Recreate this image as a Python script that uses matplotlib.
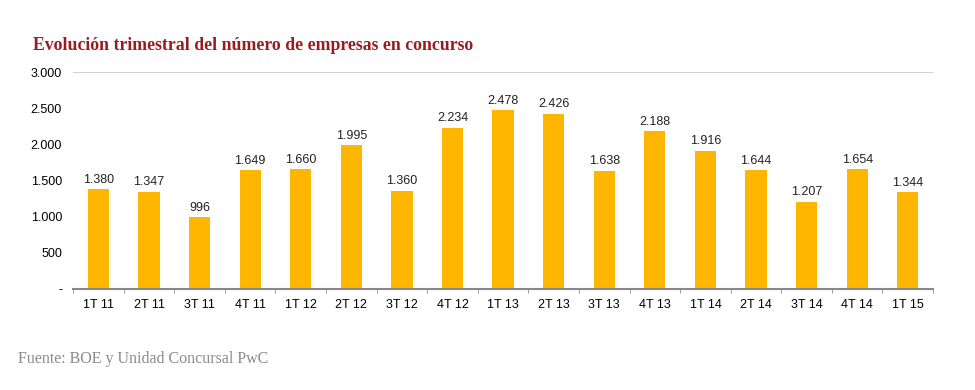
import matplotlib.pyplot as plt
import numpy as np

trimestres = ["1T 11", "2T 11", "3T 11", "4T 11", "1T 12", "2T 12", "3T 12", "4T 12",
              "1T 13", "2T 13", "3T 13", "4T 13", "1T 14", "2T 14", "3T 14", "4T 14", "1T 15"]
empresas = [1380, 1347, 996, 1649, 1660, 1995, 1360, 2234,
            2478, 2426, 1638, 2188, 1916, 1644, 1207, 1654, 1344]
yticks = [0, 500, 1000, 1500, 2000, 2500, 3000]
ylabels = ["-", "500", "1.000", "1.500", "2.000", "2.500", "3.000"]

fig = plt.figure(figsize=(9.75, 3.9), dpi=100)
ax = fig.add_axes([0.075, 0.259, 0.882, 0.556])

x = np.arange(len(trimestres))
ax.bar(x, empresas, width=0.42, color="#FFB600", zorder=2)
for xi, v in zip(x, empresas):
    ax.text(xi, v + 45, f"{v:,}".replace(",", "."), ha="center", va="bottom",
            fontsize=9, family="Liberation Sans", color="#222222")

ax.set_xlim(-0.5, len(trimestres) - 0.5)
ax.set_ylim(0, 3000)
ax.set_yticks(yticks)
ax.set_yticklabels(ylabels, family="Liberation Sans", fontsize=9)
ax.set_xticks(x)
ax.set_xticklabels(trimestres, family="Liberation Sans", fontsize=9)
ax.set_xticks(np.arange(len(trimestres) + 1) - 0.5, minor=True)
ax.tick_params(axis="x", which="major", length=0, pad=7)
ax.tick_params(axis="x", which="minor", length=3, color="#888888")
ax.tick_params(axis="y", length=0, pad=8)
ax.axhline(3000, color="#c8c8c8", lw=1.2, zorder=1)

for s in ["top", "right", "left"]:
    ax.spines[s].set_visible(False)
ax.spines["bottom"].set_color("#888888")
ax.spines["bottom"].set_linewidth(1.5)

fig.text(0.034, 0.872, "Evolución trimestral del número de empresas en concurso",
         family="Liberation Serif", fontweight="bold", fontsize=12.8, color="#9B1C20")
fig.text(0.018, 0.07, "Fuente: BOE y Unidad Concursal PwC",
         family="Liberation Serif", fontsize=11.5, color="#8a8a8a")

fig.savefig("out.png")
